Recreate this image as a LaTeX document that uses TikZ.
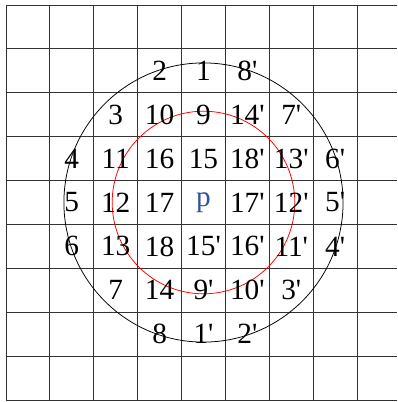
\documentclass[tikz,border=0pt]{standalone}
\usepackage{fontspec}
\setmainfont{Liberation Serif}[Ligatures=TeXOff]
\definecolor{pblue}{RGB}{47,85,160}
\begin{document}
\begin{tikzpicture}[
    x=1cm, y=1cm,
    every node/.style={font=\fontsize{19}{19}\selectfont, inner sep=0pt},
    gridline/.style={draw=black!80, line width=0.6pt},
    outer/.style={draw=black, line width=0.5pt},
    inner/.style={draw=red, line width=0.5pt},
    lbl/.style={text=black}
]
\useasboundingbox (-0.136,-0.045) rectangle (8.91,9.114);

% grid
\foreach \i in {0,...,8} {
    \draw[gridline] (\i,0) -- (\i,9);
}
\foreach \j in {0,...,9} {
    \draw[gridline] (0,\j) -- (8.91,\j);
}

% centre
\node[text=pblue] (p) at (4.5,4.5) {p};

% circles
\draw[outer] (p.center) circle (3.18);
\draw[inner] (p.center) circle (2.08);

% numbered cells: label/column/row (row 0 = top)
\foreach \t/\c/\r [count=\k] in {
    2/3/1, 1/4/1, 8'/5/1,
    3/2/2, 10/3/2, 9/4/2, 14'/5/2, 7'/6/2,
    4/1/3, 11/2/3, 16/3/3, 15/4/3, 18'/5/3, 13'/6/3, 6'/7/3,
    5/1/4, 12/2/4, 17/3/4, 17'/5/4, 12'/6/4, 5'/7/4,
    6/1/5, 13/2/5, 18/3/5, 15'/4/5, 16'/5/5, 11'/6/5, 4'/7/5,
    7/2/6, 14/3/6, 9'/4/6, 10'/5/6, 3'/6/6,
    8/3/7, 1'/4/7, 2'/5/7} {
    \node[lbl] (n\k) at (\c+0.5, 8.5-\r) {\t};
}
\end{tikzpicture}
\end{document}
